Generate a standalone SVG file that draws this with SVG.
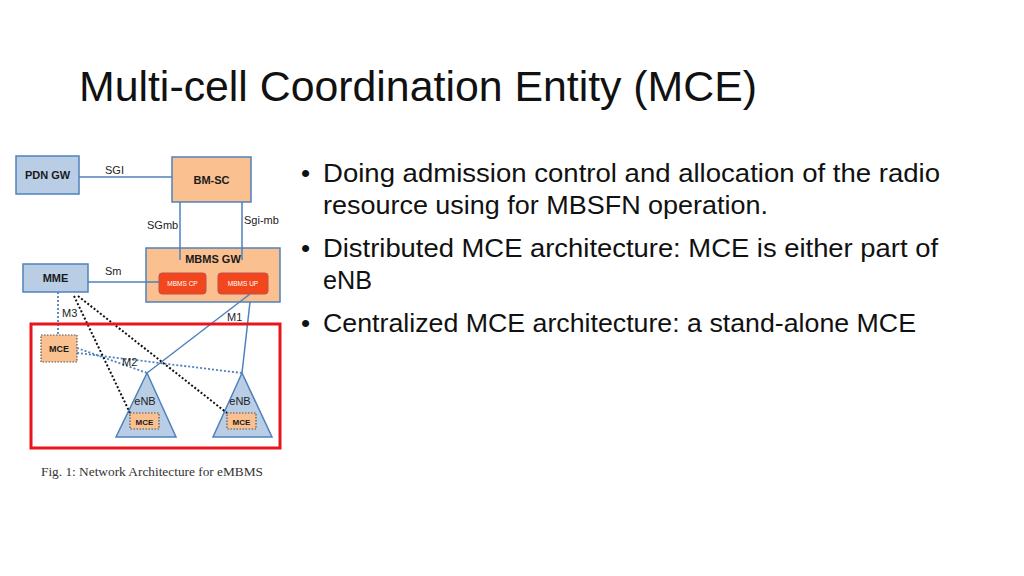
<svg xmlns="http://www.w3.org/2000/svg" width="1024" height="576" viewBox="0 0 1024 576">
<style>
.bg{fill:#ffffff}
.blue{fill:#b9cde5;stroke:#4f81bd;stroke-width:1.5}
.orange{fill:#fac090;stroke:#4f81bd;stroke-width:1.5}
.red{fill:#f2461c;stroke:#c0504d;stroke-width:1}
.mce{fill:#fac090;stroke:#555;stroke-width:1.2;stroke-dasharray:1.5 1.5}
.tri{fill:#b9cde5;stroke:#4f81bd;stroke-width:1.5}
.ln{stroke:#4f81bd;stroke-width:1.5;fill:none}
.dotb{stroke:#4f81bd;stroke-width:1.8;stroke-dasharray:2 2;fill:none}
.dotk{stroke:#111;stroke-width:2;stroke-dasharray:2 2;fill:none}
.lbl{font-family:"Liberation Sans",Arial,sans-serif;font-size:11px;fill:#222}
.bold{font-family:"Liberation Sans",Arial,sans-serif;font-size:11px;font-weight:bold;fill:#1a1a1a;text-anchor:middle}
.small{font-family:"Liberation Sans",Arial,sans-serif;font-size:6.5px;fill:#fff;text-anchor:middle}
.title{font-family:"Liberation Sans",Arial,sans-serif;font-size:42px;fill:#111}
.body{font-family:"Liberation Sans",Arial,sans-serif;font-size:26px;fill:#111}
</style>
<rect class="bg" x="0" y="0" width="1024" height="576"/>
<text class="title" x="79" y="101" textLength="678" lengthAdjust="spacingAndGlyphs">Multi-cell Coordination Entity (MCE)</text>
<g id="bullets">
<text class="body" x="301" y="182">•</text>
<text class="body" x="323" y="182" textLength="617" lengthAdjust="spacingAndGlyphs">Doing admission control and allocation of the radio</text>
<text class="body" x="323" y="214" textLength="445" lengthAdjust="spacingAndGlyphs">resource using for MBSFN operation.</text>
<text class="body" x="301" y="257">•</text>
<text class="body" x="323" y="257" textLength="615" lengthAdjust="spacingAndGlyphs">Distributed MCE architecture: MCE is either part of</text>
<text class="body" x="323" y="289" textLength="49" lengthAdjust="spacingAndGlyphs">eNB</text>
<text class="body" x="301" y="332">•</text>
<text class="body" x="323" y="332" textLength="593" lengthAdjust="spacingAndGlyphs">Centralized MCE architecture: a stand-alone MCE</text>
</g>
<g id="pdngw"><rect class="blue" x="16" y="156" width="63" height="38"/><text class="bold" x="47.5" y="179">PDN GW</text></g>
<g id="bmsc"><rect class="orange" x="172" y="157" width="79" height="45"/><text class="bold" x="211.5" y="184">BM-SC</text></g>
<g id="mbmsgw"><rect class="orange" x="146" y="248" width="134" height="54"/><text class="bold" x="213" y="263">MBMS GW</text></g>
<g id="mbmscp"><rect class="red" x="159" y="273" width="47" height="21" rx="3"/><text class="small" x="182.5" y="286">MBMS CP</text></g>
<g id="mbmsup"><rect class="red" x="218" y="273" width="50" height="21" rx="3"/><text class="small" x="243" y="286">MBMS UP</text></g>
<g id="mme"><rect class="blue" x="23" y="264" width="65" height="28"/><text class="bold" x="55.5" y="282">MME</text></g>
<g id="enb1"><polygon class="tri" points="147,373 116,437 176,437"/><text class="lbl" x="145" y="405" text-anchor="middle">eNB</text></g>
<g id="enb2"><polygon class="tri" points="242,373 213,437 272,437"/><text class="lbl" x="240" y="405" text-anchor="middle">eNB</text></g>
<g id="mce-standalone"><rect class="mce" x="41" y="335" width="36" height="27"/><text class="bold" x="59" y="352" style="font-size:9px">MCE</text></g>
<g id="connectors">
<line class="ln" x1="79" y1="177" x2="172" y2="177"/>
<line class="ln" x1="180" y1="202" x2="180" y2="260"/>
<line class="ln" x1="242" y1="202" x2="242" y2="260"/>
<line class="ln" x1="88" y1="282" x2="159" y2="282"/>
<line class="ln" x1="250" y1="294" x2="147" y2="373"/>
<line class="ln" x1="250" y1="302" x2="242" y2="373"/>
<line class="dotb" x1="58" y1="292" x2="58" y2="335"/>
<line class="dotb" x1="77" y1="348" x2="147" y2="373"/>
<line class="dotb" x1="77" y1="353" x2="242" y2="373"/>
<line class="dotk" x1="74" y1="296" x2="130" y2="413"/>
<line class="dotk" x1="78" y1="296" x2="227" y2="413"/>
<text class="lbl" x="105" y="174">SGI</text>
<text class="lbl" x="147" y="229">SGmb</text>
<text class="lbl" x="244" y="224">Sgi-mb</text>
<text class="lbl" x="105" y="275">Sm</text>
<text class="lbl" x="62" y="317">M3</text>
<text class="lbl" x="227" y="321">M1</text>
<text class="lbl" x="122" y="366">M2</text>
</g>
<g id="mce-enb1"><rect class="mce" x="130" y="413" width="29" height="16"/><text class="bold" x="144.5" y="424.5" style="font-size:8px">MCE</text></g>
<g id="mce-enb2"><rect class="mce" x="227" y="413" width="29" height="16"/><text class="bold" x="241.5" y="424.5" style="font-size:8px">MCE</text></g>
<rect id="centralized-box" x="31" y="324" width="249" height="124" fill="none" stroke="#e8161c" stroke-width="3"/>
<text x="41" y="476" font-family="'Liberation Serif','Times New Roman',serif" font-size="13" fill="#333" textLength="222" lengthAdjust="spacingAndGlyphs">Fig. 1: Network Architecture for eMBMS</text>
</svg>
